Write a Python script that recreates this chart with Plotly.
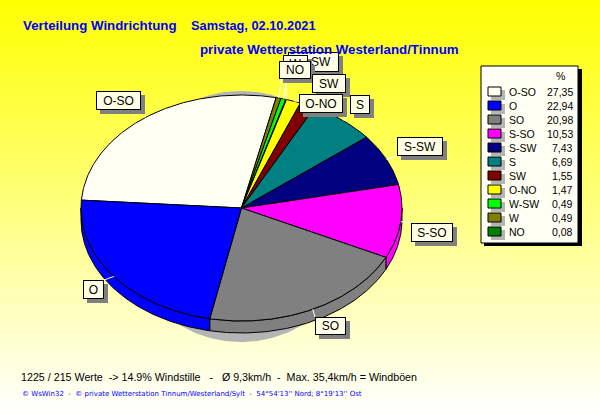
import numpy as np
import plotly.graph_objects as go

# --- data ---------------------------------------------------------------
categories = ["O-SO", "W", "W-SW", "NO", "O-NO", "SW", "S", "S-SW", "S-SO", "SO", "O"]
values = [27.35, 0.49, 0.49, 0.08, 1.47, 1.55, 6.69, 7.43, 10.53, 20.98, 22.94]

legend_order = ["O-SO", "O", "SO", "S-SO", "S-SW", "S", "SW", "O-NO", "W-SW", "W", "NO"]
legend_values = ["27,35", "22,94", "20,98", "10,53", "7,43", "6,69", "1,55", "1,47", "0,49", "0,49", "0,08"]

colors = {
    "O-SO": "#FFFFF4", "O": "#0000FF", "SO": "#808080", "S-SO": "#FF00FF",
    "S-SW": "#000080", "S": "#008080", "SW": "#800000", "O-NO": "#FFFF00",
    "W-SW": "#00FF00", "W": "#808000", "NO": "#008000",
}

title_1a = "Verteilung Windrichtung"
title_1b = "Samstag, 02.10.2021"
title_2 = "private Wetterstation Westerland/Tinnum"
footer_1 = ("1225 / 215 Werte\u00a0\u00a0-> 14.9% Windstille\u00a0\u00a0\u00a0-\u00a0\u00a0\u00a0"
            "Ø 9,3km/h\u00a0\u00a0-\u00a0\u00a0Max. 35,4km/h = Windböen")
footer_2 = ("© WsWin32\u00a0\u00a0-\u00a0\u00a0© private Wetterstation Tinnum/Westerland/Sylt"
            "\u00a0\u00a0-\u00a0\u00a054°54'13'' Nord; 8°19'13'' Ost")

# --- layout of the drawing (pixels) --------------------------------------
W, H = 600, 415
CX, CY, RX, RY, DEPTH = 241.5, 208.0, 160.5, 113.0, 12.0
START = -86.0
# label boxes: x0, x1, y0, y1 in draw order (later on top)
label_boxes = {
    "O-SO": (96, 141, 91, 110),
    "W-SW": (288, 339, 52, 72),
    "W": (283, 308, 55, 73),
    "NO": (279, 311, 61, 79),
    "SW": (312, 346, 74, 93),
    "O-NO": (299, 343, 94, 113),
    "S": (350, 370, 95, 114),
    "S-SW": (397, 443, 137, 156),
    "S-SO": (411, 453, 223, 242),
    "SO": (315, 346, 317, 335),
    "O": (83, 104, 280, 299),
}
INK = "#000000"
BLUE = "#0000FF"
BOX = "#FFFFE8"
SHADOW = "#808080"
SANS = "Liberation Sans"


def arc(a0, a1, dy=0.0):
    t = np.radians(np.linspace(a0, a1, max(int(abs(a1 - a0)) * 2, 2) + 1))
    return CX + RX * np.sin(t), CY - RY * np.cos(t) + dy


fig = go.Figure()

# page background
fig.add_trace(go.Scatter(
    x=[0, W, W, 0, 0], y=[0, 0, H, H, 0], mode="lines", line=dict(width=0),
    fill="toself", hoverinfo="skip",
    fillgradient=dict(type="vertical", colorscale=[[0, "#FFFFFF"], [1, "#FFFF00"]]),
))

# drop shadow of the pie
t = np.radians(np.linspace(0, 360, 241))
fig.add_trace(go.Scatter(
    x=241 + 122 * np.sin(t), y=216.5 - 125.5 * np.cos(t), mode="lines",
    line=dict(width=0), fill="toself", fillcolor="#B4B4B4", hoverinfo="skip",
))

# slice angles, clockwise from the top
total = sum(values)
edges = START + np.concatenate([[0], np.cumsum(values)]) / total * 360.0
spans = {c: (edges[i], edges[i + 1]) for i, c in enumerate(categories)}

# side wall, visible on the lower half only
for c in categories:
    a0, a1 = spans[c]
    lo, hi = max(a0, 90.0), min(a1, 270.0)
    if hi <= lo:
        continue
    xt, yt = arc(lo, hi)
    xb, yb = arc(hi, lo, DEPTH)
    fig.add_trace(go.Scatter(
        x=np.r_[xt, xb, xt[0]], y=np.r_[yt, yb, yt[0]], mode="lines",
        line=dict(color=INK, width=1), fill="toself", fillcolor=colors[c], hoverinfo="skip",
    ))

# top face
for c in categories:
    a0, a1 = spans[c]
    xa, ya = arc(a0, a1)
    fig.add_trace(go.Scatter(
        x=np.r_[CX, xa, CX], y=np.r_[CY, ya, CY], mode="lines", name=c,
        line=dict(color=INK, width=1), fill="toself", fillcolor=colors[c], hoverinfo="skip",
    ))

# leader lines from the rim to each label
for c, (x0, x1, y0, y1) in label_boxes.items():
    mid = sum(spans[c]) / 2
    xr, yr = arc(mid, mid)
    px, py = float(xr[0]), float(yr[0])
    tx = min(max(px, x0), x1)
    ty = min(max(py, y0), y1)
    fig.add_trace(go.Scatter(
        x=[px, tx], y=[py, ty], mode="lines",
        line=dict(color="#FFFFFF", width=1), hoverinfo="skip",
    ))

shapes = []
annotations = []


def text(x, y, s, size, color=INK, anchor="left", bold=False, family=SANS):
    annotations.append(dict(
        x=x, y=y, xref="x", yref="y", text=f"<b>{s}</b>" if bold else s, showarrow=False,
        xanchor=anchor, yanchor="middle", font=dict(family=family, size=size, color=color),
        borderpad=0, borderwidth=0,
    ))


# labels: shadow and box are both annotations so the stacking is kept
for c, (x0, x1, y0, y1) in label_boxes.items():
    w, h = x1 - x0, y1 - y0
    annotations.append(dict(
        x=(x0 + x1) / 2 + 4, y=(y0 + y1) / 2 + 4, xref="x", yref="y", text="\u00a0",
        showarrow=False, xanchor="center", yanchor="middle", width=w, height=h,
        bgcolor=SHADOW, borderpad=0, borderwidth=0, font=dict(size=10),
    ))
    annotations.append(dict(
        x=(x0 + x1) / 2, y=(y0 + y1) / 2, xref="x", yref="y", text=c, showarrow=False,
        xanchor="center", yanchor="middle", width=w - 2, height=h - 2, align="center",
        bgcolor=BOX, bordercolor=INK, borderwidth=1, borderpad=0,
        font=dict(family=SANS, size=12, color=INK),
    ))

# legend
shapes.append(dict(type="rect", xref="x", yref="y", x0=484, x1=582, y0=69, y1=246,
                   fillcolor="#000000", line=dict(width=0), layer="above"))
shapes.append(dict(type="rect", xref="x", yref="y", x0=481, x1=578, y0=66, y1=243,
                   fillcolor="#FFFFF4", line=dict(color=INK, width=1), layer="above"))
text(560, 76, "%", 10.5, anchor="center")
for i, (c, v) in enumerate(zip(legend_order, legend_values)):
    y = 92 + i * 14
    shapes.append(dict(type="rect", xref="x", yref="y", x0=491, x1=505, y0=y - 2, y1=y + 8,
                       fillcolor="#B4B4B4", line=dict(width=0), layer="above"))
    shapes.append(dict(type="rect", xref="x", yref="y", x0=488, x1=501, y0=y - 5, y1=y + 4,
                       fillcolor=colors[c], line=dict(color=INK, width=1), layer="above"))
    text(509, y, c, 10.5)
    text(573, y, v, 10.5, anchor="right")

# titles and footers
text(23, 25, title_1a, 13.3, BLUE, bold=True)
text(191, 25, title_1b, 12.8, BLUE, bold=True)
text(200, 49, title_2, 13.3, BLUE, bold=True)
text(21, 377, footer_1, 10.7)
text(22, 394, footer_2, 7, BLUE, family="DejaVu Sans")

fig.update_layout(
    width=W, height=H, margin=dict(l=0, r=0, t=0, b=0), showlegend=False,
    paper_bgcolor="#FFFFFF", plot_bgcolor="rgba(0,0,0,0)",
    xaxis=dict(range=[0, W], visible=False, fixedrange=True),
    yaxis=dict(range=[H, 0], visible=False, fixedrange=True),
    shapes=shapes, annotations=annotations,
)
fig.write_html("out.html", config={"displayModeBar": False},
               post_script="document.body.style.margin='0';document.body.style.overflow='hidden';")
